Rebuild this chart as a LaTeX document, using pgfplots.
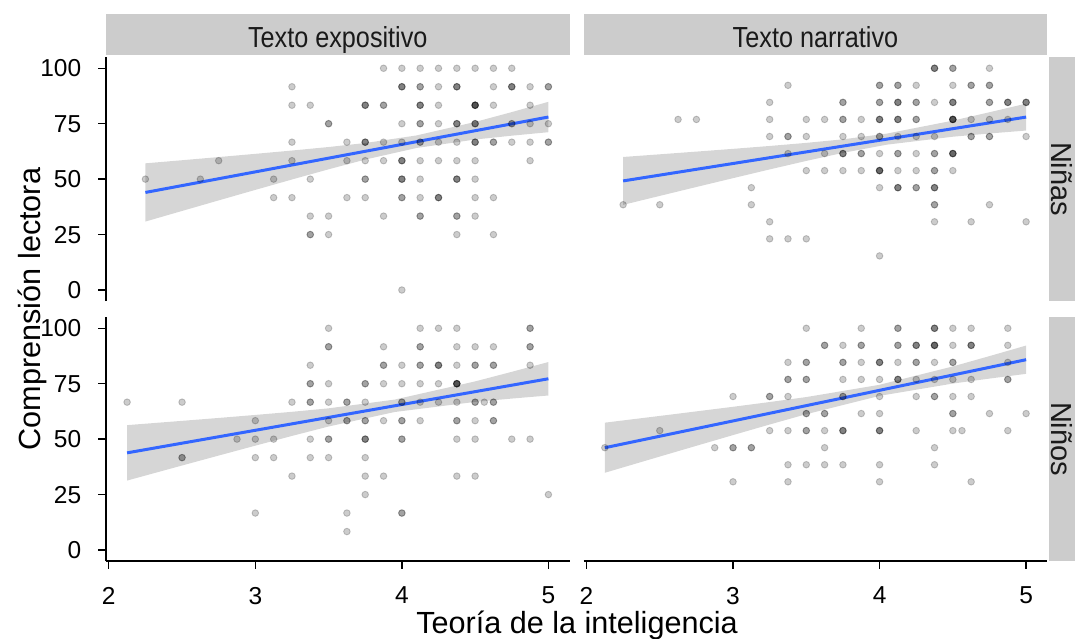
\documentclass[border=0pt]{standalone}
\usepackage{fontspec}
\setmainfont{Liberation Sans}
\newfontfamily\stripfont[FakeStretch=0.87]{Liberation Sans}
\usepackage{pgfplots}
\pgfplotsset{compat=1.18}
\definecolor{smoothblue}{HTML}{3366FF}
\definecolor{stripgray}{HTML}{CCCCCC}
\definecolor{bandgray}{HTML}{999999}
\definecolor{striptext}{HTML}{1A1A1A}
\pgfplotsset{
  panel/.style={
    width=463.5pt, height=243.9pt, scale only axis,
    xmin=1.981, xmax=5.144, ymin=-5, ymax=105,
    xtick={2,3,4,5}, ytick={0,25,50,75,100},
    tick align=outside, major tick length=7.6pt,
    tick style={black, line width=1.4pt},
    axis line style={-, black, line width=1.6pt},
    /pgf/number format/assume math mode=true,
    ticklabel style={font=\fontsize{24.5pt}{28pt}\selectfont, inner sep=0pt, text=black},
    xticklabel shift=18pt, yticklabel shift=17pt,
    clip=false,
  },
  pts/.style={only marks, mark=*, mark size=3.3pt,
    mark options={draw=black, fill=black, draw opacity=0.2, fill opacity=0.2, line width=0.9pt}},
  band/.style={draw=none, fill=bandgray, fill opacity=0.4},
  fit/.style={smoothblue, line width=3pt, no marks},
}
\begin{document}
\begin{tikzpicture}[x=1pt,y=1pt]
\useasboundingbox (0,0) rectangle (1075,639);
% strips
\fill[stripgray] (106,584) rectangle (569.5,625);
\fill[stripgray] (583.7,584) rectangle (1047.2,625);
\fill[stripgray] (1049,337.9) rectangle (1075,581.8);
\fill[stripgray] (1049,77.9) rectangle (1075,321.8);
\node[anchor=base, text=striptext, font=\stripfont\fontsize{29pt}{32pt}\selectfont] at (337.75,591.7) {Texto expositivo};
\node[anchor=base, text=striptext, font=\stripfont\fontsize{29pt}{32pt}\selectfont] at (815.45,591.7) {Texto narrativo};
\node[anchor=base, rotate=-90, text=striptext, font=\fontsize{29pt}{32pt}\selectfont] at (1051,459.9) {Niñas};
\node[anchor=base, rotate=-90, text=striptext, font=\fontsize{29pt}{32pt}\selectfont] at (1051,199.9) {Niños};
% titles
\node[anchor=base, rotate=90, font=\fontsize{30.6pt}{34pt}\selectfont] at (40,330) {Comprensión lectora};
\node[anchor=base, font=\fontsize{30.6pt}{34pt}\selectfont] at (577,5.5) {Teoría de la inteligencia};

% ---------- Top left: Texto expositivo, Niñas
\begin{axis}[panel, at={(106pt,337.9pt)}, anchor=south west, axis y line*=left, axis x line=none]
\addplot[pts] coordinates {
(3.875,100)(4,100)(4.125,100)(4.25,100)(4.375,100)(4.5,100)(4.625,100)(4.75,100)
(3.25,91.67)(4,91.67)(4,91.67)(4,91.67)(4.125,91.67)(4.125,91.67)(4.25,91.67)(4.375,91.67)(4.375,91.67)(4.375,91.67)(4.625,91.67)(4.75,91.67)(4.75,91.67)(4.75,91.67)(4.875,91.67)(5,91.67)(5,91.67)
(3.25,83.33)(3.375,83.33)(3.75,83.33)(3.75,83.33)(3.75,83.33)(3.875,83.33)(3.875,83.33)(4.125,83.33)(4.125,83.33)(4.125,83.33)(4.25,83.33)(4.5,83.33)(4.5,83.33)(4.5,83.33)(4.5,83.33)(4.5,83.33)(4.625,83.33)(4.875,83.33)
(3.5,75)(3.5,75)(4,75)(4.125,75)(4.125,75)(4.25,75)(4.375,75)(4.375,75)(4.375,75)(4.5,75)(4.5,75)(4.5,75)(4.75,75)(4.75,75)(4.875,75)(5,75)
(3.25,66.67)(3.625,66.67)(3.75,66.67)(3.75,66.67)(3.75,66.67)(3.875,66.67)(4,66.67)(4.125,66.67)(4.125,66.67)(4.25,66.67)(4.375,66.67)(4.5,66.67)(4.5,66.67)(4.5,66.67)(4.625,66.67)(4.625,66.67)(4.75,66.67)(4.875,66.67)(5,66.67)(5,66.67)
(2.75,58.33)(3.25,58.33)(3.625,58.33)(3.75,58.33)(3.875,58.33)(4,58.33)(4,58.33)(4,58.33)(4.125,58.33)(4.25,58.33)(4.375,58.33)(4.5,58.33)(4.875,58.33)
(2.25,50)(2.625,50)(3.125,50)(3.375,50)(3.75,50)(3.75,50)(4,50)(4,50)(4,50)(4.125,50)(4.375,50)(4.375,50)(4.375,50)(4.5,50)
(3.125,41.67)(3.25,41.67)(3.625,41.67)(3.75,41.67)(4,41.67)(4,41.67)(4.125,41.67)(4.25,41.67)(4.25,41.67)(4.25,41.67)(4.5,41.67)(4.625,41.67)
(3.375,33.33)(3.5,33.33)(3.875,33.33)(4.125,33.33)(4.125,33.33)(4.375,33.33)(4.375,33.33)(4.5,33.33)
(3.375,25)(3.375,25)(3.5,25)(4.375,25)(4.625,25)
(4,0)
};
\addplot[band] coordinates {(2.25,57.13)(2.5,58.53)(2.75,59.96)(3.0,61.41)(3.25,62.90)(3.5,64.49)(3.75,66.29)(4.1,69.71)(4.5,75.79)(4.75,80.24)(5,84.87)
(5,71.17)(4.75,69.60)(4.5,67.87)(4.1,64.05)(3.75,58.83)(3.5,54.43)(3.25,49.84)(3.0,45.15)(2.75,40.42)(2.5,35.65)(2.25,30.87)} -- cycle;
\addplot[fit] coordinates {(2.25,44.0)(5,78.02)};
\end{axis}

% ---------- Top right: Texto narrativo, Niñas
\begin{axis}[panel, at={(583.7pt,337.9pt)}, anchor=south west, hide axis]
\addplot[pts] coordinates {
(4.375,100)(4.375,100)(4.375,100)(4.5,100)(4.5,100)(4.75,100)
(3.375,92.31)(4,92.31)(4,92.31)(4.125,92.31)(4.125,92.31)(4.25,92.31)(4.5,92.31)(4.625,92.31)(4.625,92.31)(4.75,92.31)(4.75,92.31)
(3.25,84.62)(3.75,84.62)(3.75,84.62)(4,84.62)(4,84.62)(4.125,84.62)(4.125,84.62)(4.125,84.62)(4.25,84.62)(4.25,84.62)(4.375,84.62)(4.5,84.62)(4.5,84.62)(4.5,84.62)(4.75,84.62)(4.75,84.62)(4.875,84.62)(4.875,84.62)(4.875,84.62)(5,84.62)(5,84.62)(5,84.62)
(2.625,76.92)(2.75,76.92)(3.25,76.92)(3.5,76.92)(3.625,76.92)(3.75,76.92)(3.75,76.92)(3.875,76.92)(4,76.92)(4,76.92)(4,76.92)(4.125,76.92)(4.125,76.92)(4.125,76.92)(4.25,76.92)(4.25,76.92)(4.5,76.92)(4.5,76.92)(4.5,76.92)(4.5,76.92)(4.5,76.92)(4.625,76.92)(4.75,76.92)(4.875,76.92)
(3.25,69.23)(3.375,69.23)(3.375,69.23)(3.5,69.23)(3.75,69.23)(3.875,69.23)(4,69.23)(4,69.23)(4.125,69.23)(4.25,69.23)(4.375,69.23)(4.625,69.23)(4.625,69.23)(4.75,69.23)(4.75,69.23)(5,69.23)
(3.375,61.54)(3.625,61.54)(3.75,61.54)(3.75,61.54)(3.75,61.54)(3.875,61.54)(3.875,61.54)(4,61.54)(4.125,61.54)(4.125,61.54)(4.25,61.54)(4.375,61.54)(4.375,61.54)(4.5,61.54)(4.5,61.54)(4.5,61.54)(4.5,61.54)
(3.5,53.85)(3.625,53.85)(3.75,53.85)(3.875,53.85)(4,53.85)(4,53.85)(4,53.85)(4,53.85)(4.125,53.85)(4.25,53.85)(4.375,53.85)(4.375,53.85)(4.5,53.85)
(3.125,46.15)(4,46.15)(4.125,46.15)(4.125,46.15)(4.125,46.15)(4.25,46.15)(4.25,46.15)(4.375,46.15)(4.375,46.15)(4.375,46.15)
(2.25,38.46)(2.5,38.46)(3.125,38.46)(4.375,38.46)(4.375,38.46)(4.75,38.46)
(3.25,30.77)(4.375,30.77)(4.625,30.77)(5,30.77)
(3.25,23.08)(3.375,23.08)(3.5,23.08)
(4,15.38)
};
\addplot[band] coordinates {(2.25,60.0)(2.5,61.20)(2.75,62.42)(3.0,63.66)(3.25,64.96)(3.5,66.36)(3.75,67.95)(4.05,70.55)(4.5,76.39)(4.75,80.17)(5,84.06)
(5,71.92)(4.75,70.59)(4.5,69.13)(4.05,65.55)(3.75,61.85)(3.5,58.22)(3.25,54.38)(3.0,50.44)(2.75,46.46)(2.5,42.44)(2.25,38.4)} -- cycle;
\addplot[fit] coordinates {(2.25,49.2)(5,77.99)};
\end{axis}

% ---------- Bottom left: Texto expositivo, Niños
\begin{axis}[panel, at={(106pt,77.9pt)}, anchor=south west, axis y line*=left, axis x line*=bottom]
\addplot[pts] coordinates {
(3.5,100)(4.125,100)(4.25,100)(4.375,100)(4.875,100)(4.875,100)
(3.5,91.67)(3.5,91.67)(3.875,91.67)(4.125,91.67)(4.125,91.67)(4.375,91.67)(4.5,91.67)(4.625,91.67)(4.875,91.67)(4.875,91.67)
(3.375,83.33)(3.875,83.33)(3.875,83.33)(4,83.33)(4.125,83.33)(4.125,83.33)(4.25,83.33)(4.25,83.33)(4.25,83.33)(4.375,83.33)(4.5,83.33)(4.5,83.33)(4.625,83.33)(4.625,83.33)(4.875,83.33)
(3.375,75)(3.375,75)(3.5,75)(3.75,75)(3.75,75)(3.875,75)(4,75)(4.125,75)(4.25,75)(4.375,75)(4.375,75)(4.375,75)(4.375,75)(4.375,75)
(2.125,66.67)(2.5,66.67)(3.25,66.67)(3.375,66.67)(3.375,66.67)(3.5,66.67)(3.625,66.67)(3.625,66.67)(3.75,66.67)(4,66.67)(4,66.67)(4.125,66.67)(4.25,66.67)(4.375,66.67)(4.5,66.67)(4.5,66.67)(4.5625,66.67)(4.625,66.67)(4.625,66.67)
(3,58.33)(3.5,58.33)(3.625,58.33)(3.625,58.33)(3.75,58.33)(3.75,58.33)(3.875,58.33)(4,58.33)(4,58.33)(4.125,58.33)(4.375,58.33)(4.375,58.33)(4.5,58.33)(4.625,58.33)(4.625,58.33)
(2.875,50)(3,50)(3.125,50)(3.375,50)(3.5,50)(3.5,50)(3.75,50)(3.75,50)(3.75,50)(4,50)(4,50)(4.375,50)(4.5,50)(4.75,50)(4.875,50)
(2.5,41.67)(2.5,41.67)(3,41.67)(3.125,41.67)(3.375,41.67)(3.5,41.67)(3.75,41.67)
(3.25,33.33)(3.75,33.33)(3.875,33.33)(4.375,33.33)(4.5,33.33)
(3.75,25)(5,25)
(3,16.67)(3.625,16.67)(4,16.67)(4,16.67)
(3.625,8.33)
};
\addplot[band] coordinates {(2.125,56.32)(2.5,58.25)(2.75,59.56)(3.0,60.92)(3.25,62.33)(3.5,63.90)(3.95,67.83)(4.5,76.04)(4.75,80.36)(5,84.77)
(5,69.69)(4.75,68.30)(4.5,66.80)(3.95,62.23)(3.5,55.70)(3.25,51.45)(3.0,47.06)(2.75,42.60)(2.5,38.11)(2.125,31.32)} -- cycle;
\addplot[fit] coordinates {(2.125,43.82)(5,77.23)};
\end{axis}

% ---------- Bottom right: Texto narrativo, Niños
\begin{axis}[panel, at={(583.7pt,77.9pt)}, anchor=south west, axis x line*=bottom, axis y line=none]
\addplot[pts] coordinates {
(3.5,100)(3.875,100)(4.125,100)(4.125,100)(4.375,100)(4.375,100)(4.375,100)(4.5,100)(4.625,100)(4.875,100)
(3.625,92.31)(3.625,92.31)(3.75,92.31)(3.875,92.31)(3.875,92.31)(4.125,92.31)(4.125,92.31)(4.25,92.31)(4.25,92.31)(4.25,92.31)(4.375,92.31)(4.375,92.31)(4.375,92.31)(4.375,92.31)(4.5,92.31)(4.625,92.31)(4.625,92.31)(4.625,92.31)(4.875,92.31)
(3.375,84.62)(3.5,84.62)(3.5,84.62)(3.75,84.62)(3.75,84.62)(3.875,84.62)(4,84.62)(4,84.62)(4,84.62)(4.125,84.62)(4.25,84.62)(4.25,84.62)(4.375,84.62)(4.5,84.62)(4.5,84.62)(4.875,84.62)
(3.375,76.92)(3.375,76.92)(3.5,76.92)(3.5,76.92)(3.75,76.92)(3.875,76.92)(4,76.92)(4.125,76.92)(4.125,76.92)(4.125,76.92)(4.25,76.92)(4.375,76.92)(4.5,76.92)(4.625,76.92)(4.875,76.92)(4.875,76.92)
(3,69.23)(3.25,69.23)(3.25,69.23)(3.375,69.23)(3.75,69.23)(3.75,69.23)(4,69.23)(4.25,69.23)(4.375,69.23)(4.375,69.23)(4.5,69.23)(4.625,69.23)
(3.5,61.54)(3.5,61.54)(3.625,61.54)(3.625,61.54)(3.875,61.54)(4,61.54)(4.5,61.54)(4.5,61.54)(4.75,61.54)(5,61.54)
(2.5,53.85)(3.25,53.85)(3.375,53.85)(3.5,53.85)(3.5,53.85)(3.625,53.85)(3.75,53.85)(3.75,53.85)(3.75,53.85)(4,53.85)(4,53.85)(4,53.85)(4.25,53.85)(4.5,53.85)(4.5625,53.85)(4.875,53.85)
(2.125,46.15)(2.875,46.15)(3,46.15)(3,46.15)(3.125,46.15)(3.125,46.15)(3.625,46.15)(4.375,46.15)
(3.375,38.46)(3.5,38.46)(3.625,38.46)(3.75,38.46)(4,38.46)(4.375,38.46)
(3,30.77)(3.375,30.77)(4,30.77)(4.625,30.77)
};
\addplot[band] coordinates {(2.125,57.43)(2.5,60.47)(2.75,62.52)(3.0,64.59)(3.25,66.74)(3.5,68.98)(4.0,74.52)(4.5,82.79)(4.75,87.45)(5,92.21)
(5,79.45)(4.75,77.31)(4.5,75.07)(4.0,69.52)(3.5,61.26)(3.25,56.60)(3.0,51.83)(2.75,47.00)(2.5,42.15)(2.125,34.83)} -- cycle;
\addplot[fit] coordinates {(2.125,46.13)(5,85.83)};
\end{axis}
\end{tikzpicture}
\end{document}
